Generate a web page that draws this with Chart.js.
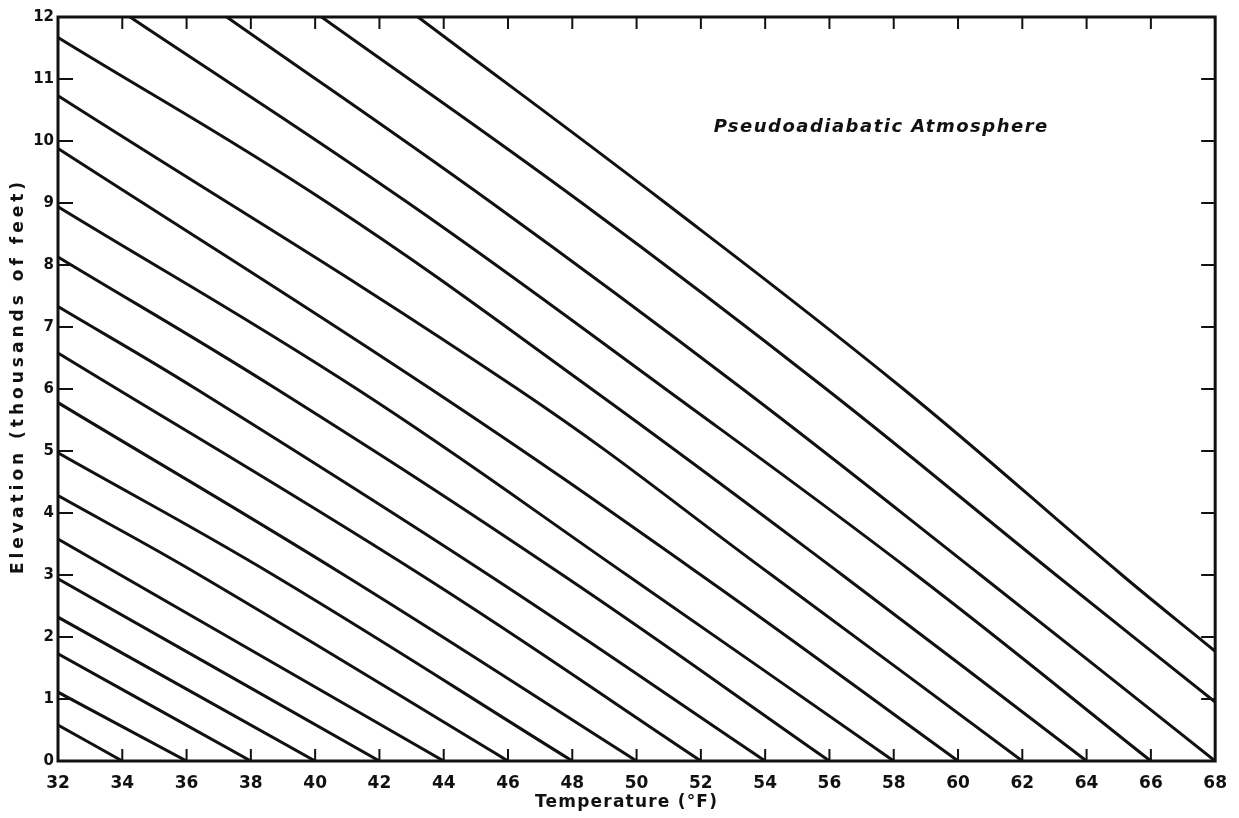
<!DOCTYPE html>
<html>
<head>
<meta charset="utf-8">
<script src="https://cdn.jsdelivr.net/npm/chart.js@4.4.1/dist/chart.umd.min.js"></script>
<style>
  html, body { margin: 0; padding: 0; background: #fff; }
  #wrap { width: 1239px; height: 818px; position: relative; }
</style>
</head>
<body>
<div id="wrap"><canvas id="chart"></canvas></div>
<script>
// ─── Data: pseudoadiabats, temperature (°F) vs elevation (thousands of ft) ───
const SEA_LEVEL_TEMPS = [34, 36, 38, 40, 42, 44, 46, 48, 50, 52, 54, 56, 58, 60, 62, 64, 66, 68, 70, 72];

const ADIABAT_34 = [[34, 0], [32, 0.58]];
const ADIABAT_36 = [[36, 0], [32, 1.11]];
const ADIABAT_38 = [[38, 0], [32, 1.73]];
const ADIABAT_40 = [[40, 0], [32, 2.32]];
const ADIABAT_42 = [[42, 0], [32, 2.94]];
const ADIABAT_44 = [[44, 0], [32, 3.58]];
const ADIABAT_46 = [[46, 0], [36.4, 3], [32, 4.28]];
const ADIABAT_48 = [[48, 0], [38.7, 3], [32, 4.97]];
const ADIABAT_50 = [[50, 0], [40.9, 3], [32, 5.78]];
const ADIABAT_52 = [[52, 0], [43.3, 3], [32, 6.58]];
const ADIABAT_54 = [[54, 0], [45.4, 3], [36.3, 6], [32, 7.33]];
const ADIABAT_56 = [[56, 0], [47.7, 3], [38.8, 6], [32, 8.13]];
const ADIABAT_58 = [[58, 0], [49.7, 3], [41.3, 6], [32, 8.94]];
const ADIABAT_60 = [[60, 0], [52.0, 3], [43.6, 6], [32, 9.88]];
const ADIABAT_62 = [[62, 0], [54.2, 3], [46.3, 6], [32, 10.73]];
const ADIABAT_64 = [[64, 0], [56.4, 3], [48.6, 6], [40.4, 9], [32, 11.67]];
const ADIABAT_66 = [[66, 0], [58.7, 3], [50.9, 6], [42.9, 9], [34.24, 12]];
const ADIABAT_68 = [[68, 0], [60.7, 3], [53.3, 6], [45.5, 9], [37.25, 12]];
const ADIABAT_70 = [[68, 0.95], [63.05, 3], [55.9, 6], [48.3, 9], [40.2, 12]];
const ADIABAT_72 = [[68, 1.77], [65.1, 3], [58.3, 6], [50.9, 9], [43.2, 12]];

const ADIABATS = [
  ADIABAT_34, ADIABAT_36, ADIABAT_38, ADIABAT_40, ADIABAT_42, ADIABAT_44, ADIABAT_46,
  ADIABAT_48, ADIABAT_50, ADIABAT_52, ADIABAT_54, ADIABAT_56, ADIABAT_58, ADIABAT_60,
  ADIABAT_62, ADIABAT_64, ADIABAT_66, ADIABAT_68, ADIABAT_70, ADIABAT_72
];

const X_TICKS = [32, 34, 36, 38, 40, 42, 44, 46, 48, 50, 52, 54, 56, 58, 60, 62, 64, 66, 68];
const Y_TICKS = [0, 1, 2, 3, 4, 5, 6, 7, 8, 9, 10, 11, 12];

const X_TITLE = 'Temperature (°F)';
const Y_TITLE = 'Elevation (thousands of feet)';
const LABEL = 'Pseudoadiabatic Atmosphere';
const LABEL_AT = { x: 52.4, y: 10.22 };

const INK = '#111';
const FONT = '"DejaVu Sans", "Liberation Sans", sans-serif';

// ─── Frame, inward ticks, titles ─────────────────────────────────────────────
const framePlugin = {
  id: 'frame',
  afterDraw(chart) {
    const { ctx, chartArea: a, scales: { x, y } } = chart;
    ctx.save();
    ctx.strokeStyle = INK;
    ctx.lineWidth = 3;
    ctx.strokeRect(a.left, a.top, a.right - a.left, a.bottom - a.top);

    ctx.lineWidth = 2;
    ctx.beginPath();
    X_TICKS.slice(1, -1).forEach(v => {
      const px = x.getPixelForValue(v);
      ctx.moveTo(px, a.bottom); ctx.lineTo(px, a.bottom - 12);
      ctx.moveTo(px, a.top); ctx.lineTo(px, a.top + 12);
    });
    Y_TICKS.slice(1, -1).forEach(v => {
      const py = y.getPixelForValue(v);
      ctx.moveTo(a.left, py); ctx.lineTo(a.left + 15, py);
      ctx.moveTo(a.right, py); ctx.lineTo(a.right - 14, py);
    });
    ctx.stroke();

    ctx.fillStyle = INK;
    ctx.textAlign = 'center';
    ctx.textBaseline = 'middle';

    ctx.font = `bold 17px ${FONT}`;
    ctx.letterSpacing = '1.2px';
    ctx.fillText(X_TITLE, (a.left + a.right) / 2 - 10, 803);

    ctx.save();
    ctx.translate(19, 376);
    ctx.rotate(-Math.PI / 2);
    ctx.font = `bold 17px ${FONT}`;
    ctx.letterSpacing = '4px';
    ctx.fillText(Y_TITLE, 0, 0);
    ctx.restore();

    ctx.font = `italic bold 18px ${FONT}`;
    ctx.letterSpacing = '1.5px';
    ctx.textAlign = 'left';
    ctx.fillText(LABEL, x.getPixelForValue(LABEL_AT.x), y.getPixelForValue(LABEL_AT.y));
    ctx.restore();
  }
};

const ctx = document.getElementById('chart').getContext('2d');
const chart = new Chart(ctx, {
  type: 'scatter',
  data: {
    datasets: ADIABATS.map((pts, i) => ({
      label: `${SEA_LEVEL_TEMPS[i]}°F`,
      data: pts.map(([t, z]) => ({ x: t, y: z })),
      showLine: true,
      borderColor: INK,
      borderWidth: 3,
      pointRadius: 0,
      tension: 0.4,
      fill: false
    }))
  },
  options: {
    responsive: true,
    maintainAspectRatio: false,
    animation: false,
    events: [],
    layout: { padding: { top: 17, right: 22, left: 0, bottom: 0 } },
    plugins: { legend: { display: false }, tooltip: { enabled: false } },
    scales: {
      x: {
        type: 'linear', min: 32, max: 68,
        afterBuildTicks: s => { s.ticks = X_TICKS.map(v => ({ value: v })); },
        afterFit: s => { s.height = 57; },
        grid: { display: false, drawTicks: false },
        border: { display: false },
        ticks: { color: INK, padding: 12, font: { family: FONT, size: 17, weight: 'bold' }, maxRotation: 0, autoSkip: false }
      },
      y: {
        type: 'linear', min: 0, max: 12,
        afterBuildTicks: s => { s.ticks = Y_TICKS.map(v => ({ value: v })); },
        afterFit: s => { s.width = 58; },
        grid: { display: false, drawTicks: false },
        border: { display: false },
        ticks: { color: INK, padding: 4, font: { family: FONT, size: 15, weight: 'bold' }, autoSkip: false }
      }
    }
  },
  plugins: [framePlugin]
});
</script>
</body>
</html>
